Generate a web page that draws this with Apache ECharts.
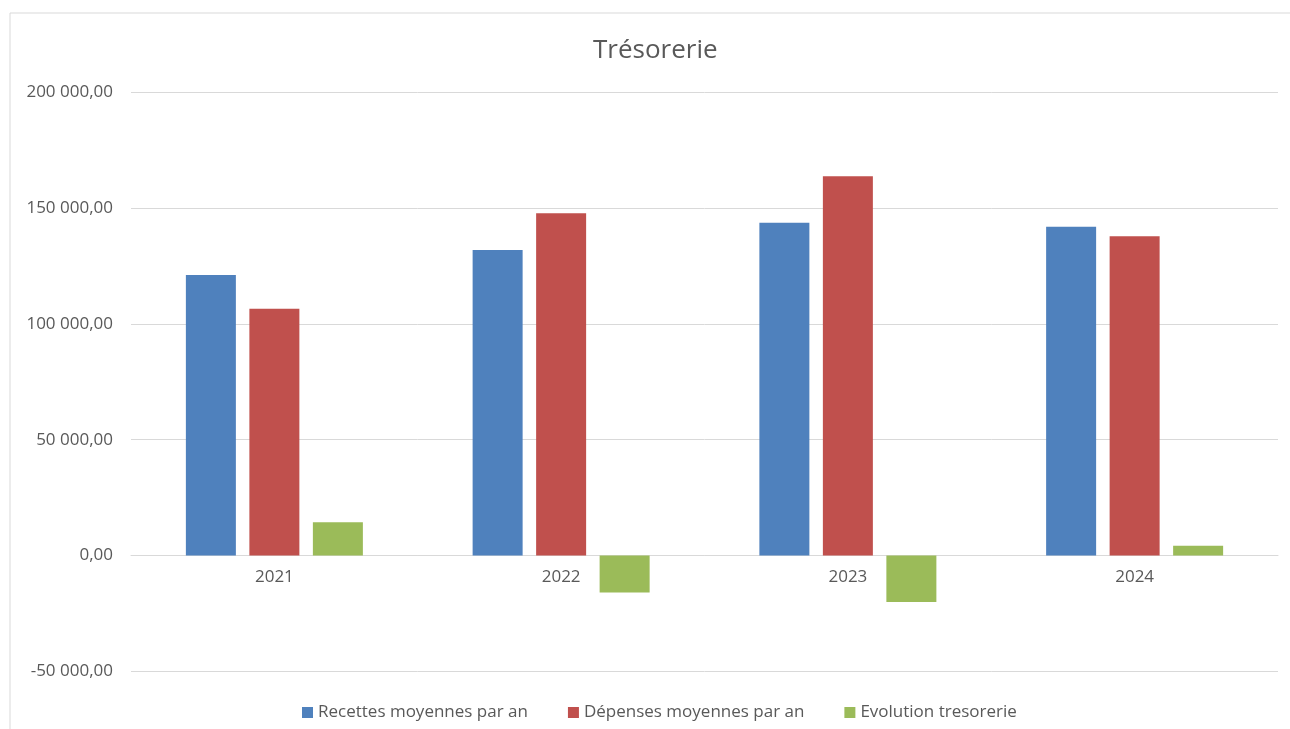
<!DOCTYPE html>
<html>
<head>
<meta charset="utf-8">
<script src="https://cdn.jsdelivr.net/npm/echarts@6/dist/echarts.min.js"></script>
<style>
  html, body { margin: 0; padding: 0; background: #fff; }
  #chart { width: 1290px; height: 729px; }
</style>
</head>
<body>
<div id="chart"></div>
<script>
// données
var years = ['2021', '2022', '2023', '2024'];
var recettes = [121000, 131800, 143600, 141900];
var depenses = [106500, 147700, 163700, 137800];
var evolution = [14400, -15900, -20000, 4200];
var seriesNames = ['Recettes moyennes par an', 'Dépenses moyennes par an', 'Evolution tresorerie'];
var colors = ['#4F81BD', '#C0504D', '#9BBB59'];

var textColor = '#595959';
var fontName = '"Open Sans", Lato, sans-serif';

// format "200 000,00"
function frNumber(v) {
    var neg = v < 0;
    var s = Math.abs(v).toFixed(2).split('.');
    var ent = s[0].replace(/\B(?=(\d{3})+(?!\d))/g, ' ');
    return (neg ? '-' : '') + ent + ',' + s[1];
}

var chart = echarts.init(document.getElementById('chart'));

var option = {
    animation: false,
    color: colors,
    textStyle: { fontFamily: fontName, color: textColor },
    title: {
        text: 'Trésorerie',
        left: 588,
        top: 33,
        textStyle: { fontSize: 26, fontWeight: 'normal', color: textColor, fontFamily: fontName }
    },
    legend: {
        bottom: 3,
        left: 297,
        itemWidth: 11,
        itemHeight: 11,
        itemGap: 40,
        icon: 'rect',
        textStyle: { fontSize: 17, color: textColor, fontFamily: fontName },
        data: seriesNames
    },
    grid: { left: 131, right: 12, top: 92, bottom: 57.5, containLabel: false },
    xAxis: {
        type: 'category',
        data: years,
        // l'axe est placé sur la ligne du zéro (116 px au-dessus du bas)
        offset: -116,
        axisLine: { onZero: false, lineStyle: { color: '#D9D9D9', width: 1 } },
        axisTick: { show: false },
        axisLabel: { fontSize: 17, color: textColor, margin: 13 }
    },
    yAxis: {
        type: 'value',
        min: -50000,
        max: 200000,
        interval: 50000,
        axisLine: { show: false },
        axisTick: { show: false },
        splitLine: { lineStyle: { color: '#D9D9D9', width: 1 } },
        axisLabel: { fontSize: 17, color: textColor, margin: 18, formatter: frNumber }
    },
    graphic: [
        { type: 'line', shape: { x1: 10, y1: 13, x2: 1290, y2: 13 }, style: { stroke: '#D9D9D9', lineWidth: 1 } },
        { type: 'line', shape: { x1: 10, y1: 13, x2: 10, y2: 729 }, style: { stroke: '#D9D9D9', lineWidth: 1 } }
    ],
    series: [
        { name: seriesNames[0], type: 'bar', data: recettes, barWidth: 50, barGap: '27%' },
        { name: seriesNames[1], type: 'bar', data: depenses, barWidth: 50, barGap: '27%' },
        { name: seriesNames[2], type: 'bar', data: evolution, barWidth: 50, barGap: '27%' }
    ]
};

chart.setOption(option);
</script>
</body>
</html>
